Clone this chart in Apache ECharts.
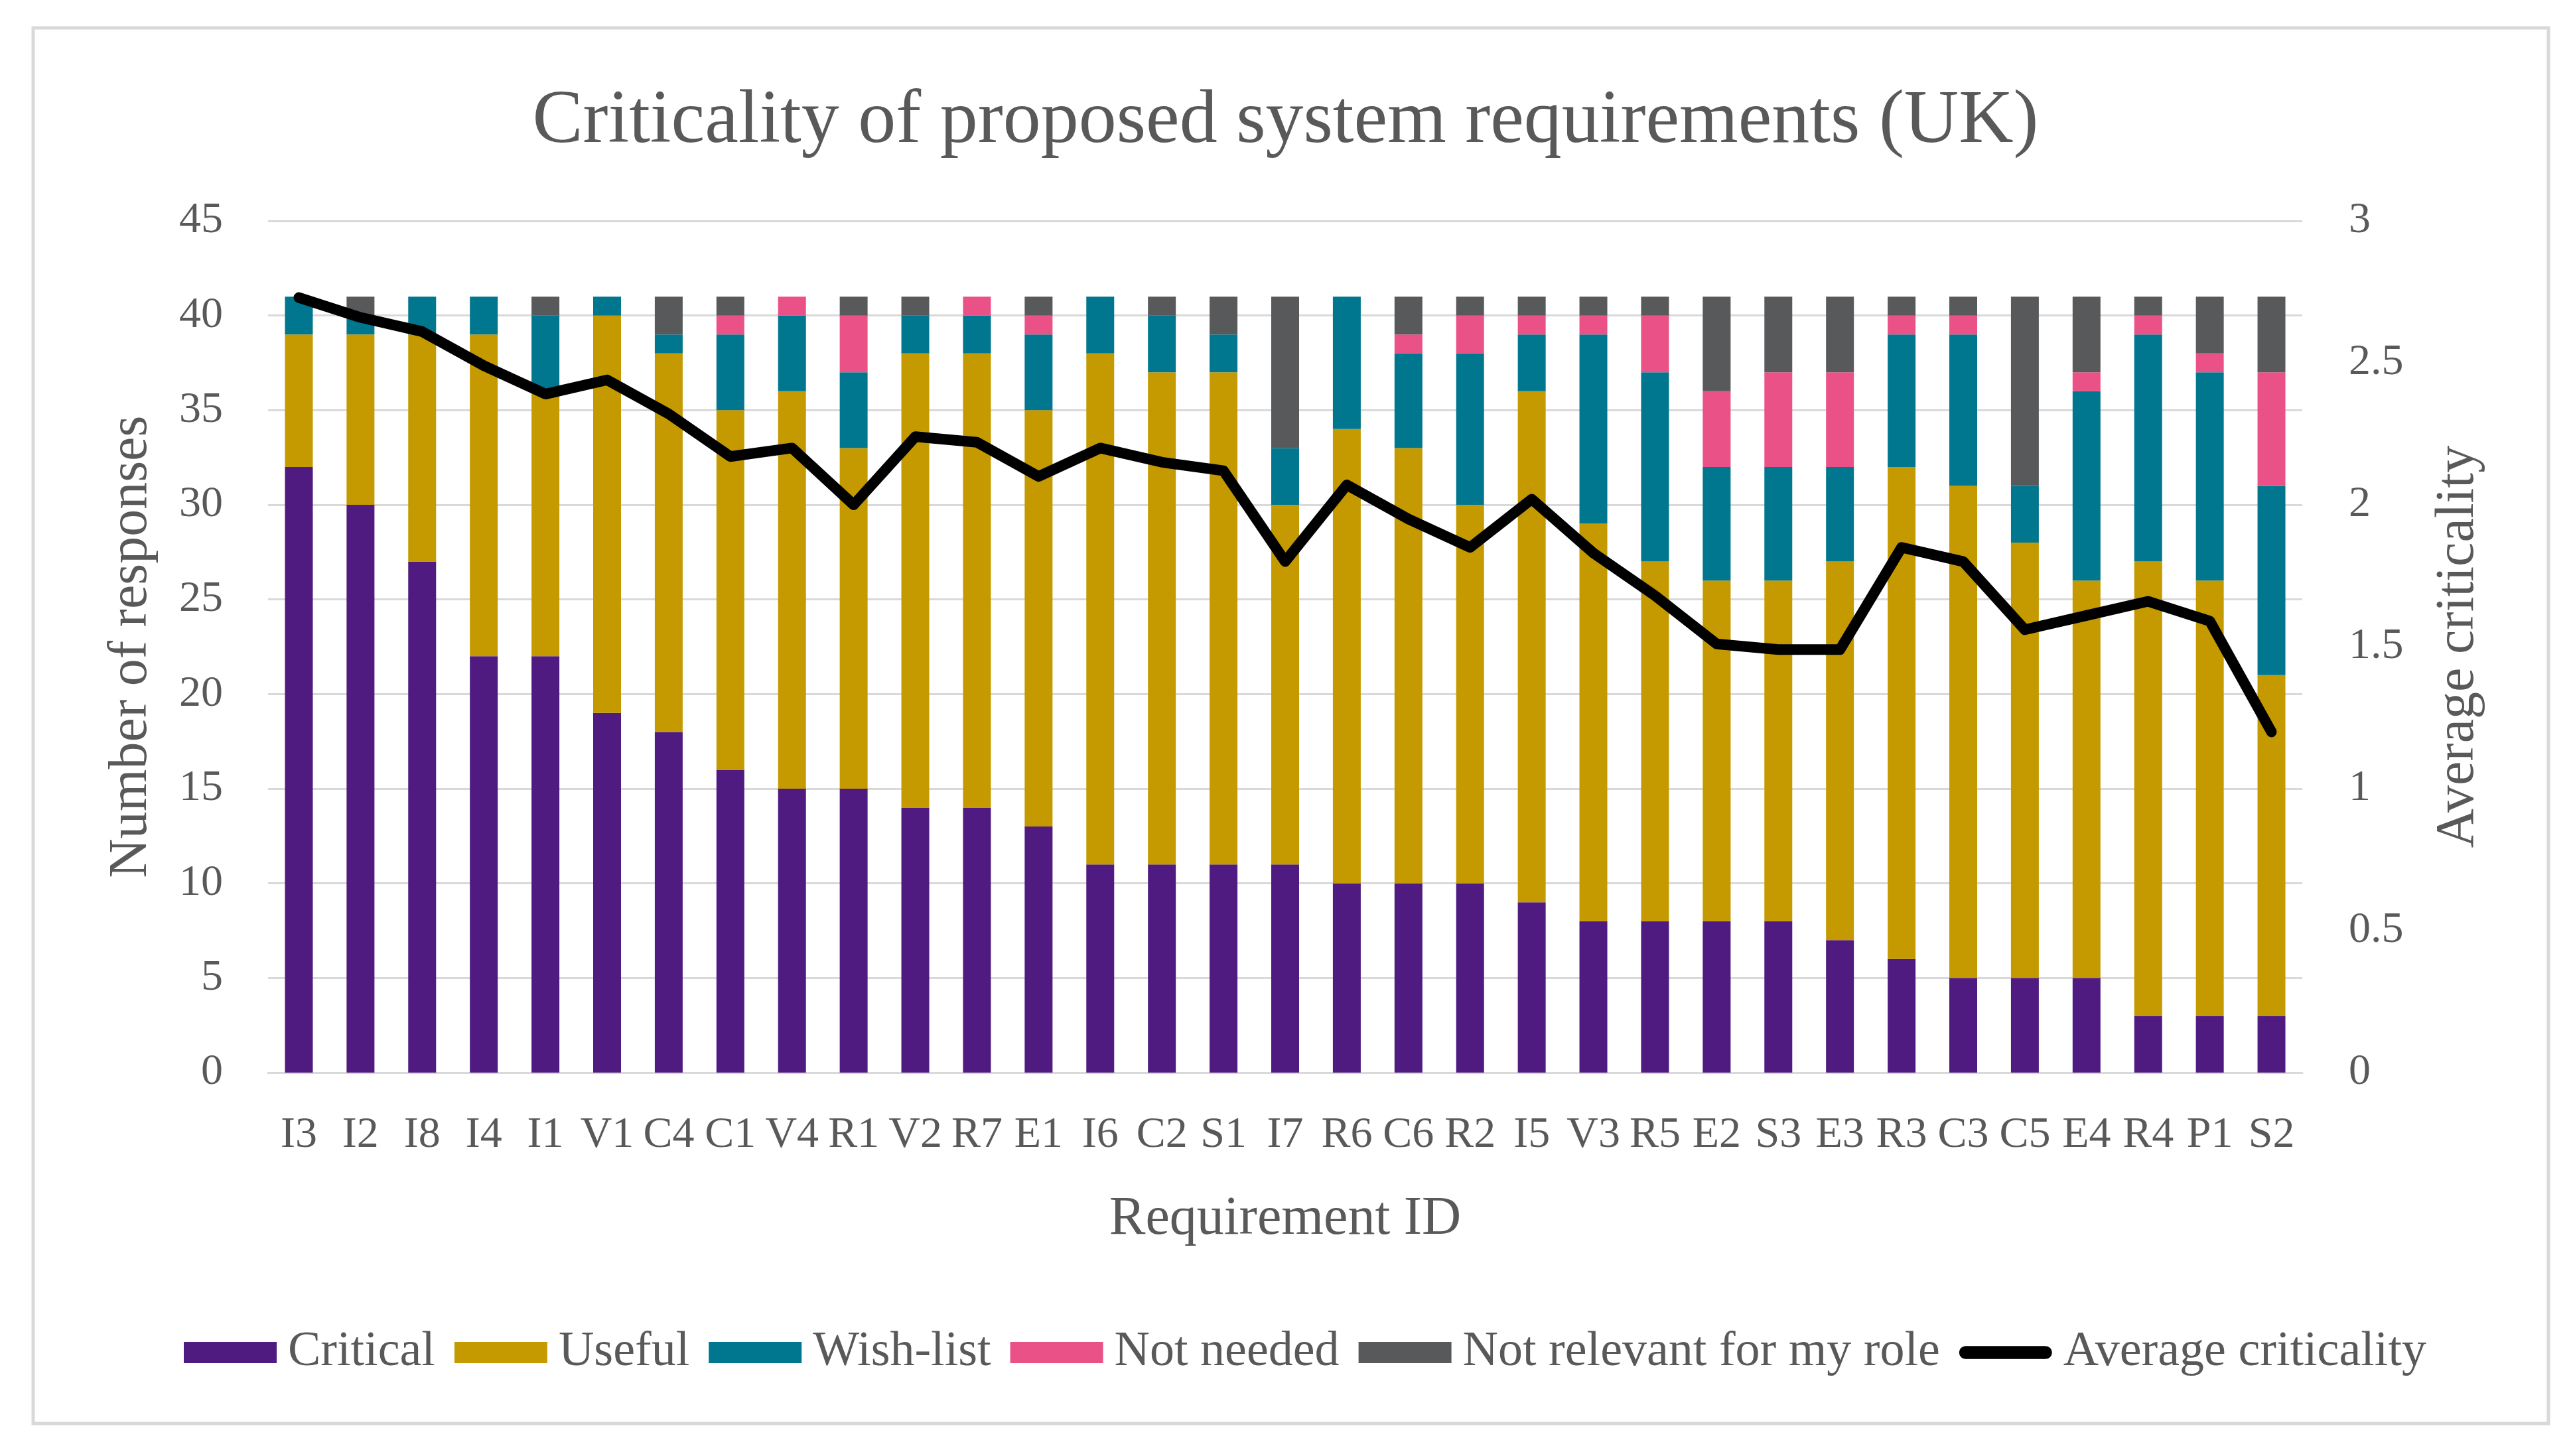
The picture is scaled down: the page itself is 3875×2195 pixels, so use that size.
<!DOCTYPE html>
<html>
<head>
<meta charset="utf-8">
<title>Criticality of proposed system requirements (UK)</title>
<script src="https://cdn.jsdelivr.net/npm/echarts/dist/echarts.min.js"></script>
<style>
    html, body { margin: 0; padding: 0; background: #fff; }
    #echart1 { width: 3875px; height: 2195px; }
</style>
</head>
<body>
<div id="echart1"></div>
<script>
// requirement IDs, in the order shown on the x axis
var categories = ['I3','I2','I8','I4','I1','V1','C4','C1','V4','R1','V2','R7','E1','I6','C2','S1','I7',
                  'R6','C6','R2','I5','V3','R5','E2','S3','E3','R3','C3','C5','E4','R4','P1','S2'];

// number of responses per answer
var critical    = [32,30,27,22,22,19,18,16,15,15,14,14,13,11,11,11,11,10,10,10,9,8,8,8,8,7,6,5,5,5,3,3,3];
var useful      = [7,9,12,17,14,21,20,19,21,18,24,24,22,27,26,26,19,24,23,20,27,21,19,18,18,20,26,26,23,21,24,23,18];
var wishList    = [2,1,2,2,4,1,1,4,4,4,2,2,4,3,3,2,3,7,5,8,3,10,10,6,6,5,7,8,3,10,12,11,10];
var notNeeded   = [0,0,0,0,0,0,0,1,1,3,0,1,1,0,0,0,0,0,1,2,1,1,3,4,5,5,1,1,0,1,1,1,6];
var notRelevant = [0,1,0,0,1,0,2,1,0,1,1,0,1,0,1,2,8,0,2,1,1,1,1,5,4,4,1,1,10,4,1,3,4];

// average criticality (right axis)
var avgCriticality = [2.73,2.66,2.61,2.49,2.39,2.44,2.32,2.17,2.20,2.00,2.24,2.22,2.10,2.20,2.15,2.12,1.80,
                      2.07,1.95,1.85,2.02,1.83,1.68,1.51,1.49,1.49,1.85,1.80,1.56,1.61,1.66,1.59,1.20];

var barNames = ['Critical', 'Useful', 'Wish-list', 'Not needed', 'Not relevant for my role'];
var lineName = 'Average criticality';

function echarts_1() {
    var myChart = echarts.init(document.getElementById('echart1'));
    var font = '"Liberation Serif", "DejaVu Serif", serif';
    var txt = '#595959';

    function barSeries(name, data, color) {
        return {
            name: name,
            type: 'bar',
            stack: 'total',
            data: data,
            barWidth: 42,
            itemStyle: { color: color },
            emphasis: { disabled: true }
        };
    }

    // legend: bars as plain boxes, the line as a thick rounded stroke
    var legendData = barNames.map(function (n) { return { name: n, icon: 'rect' }; });
    legendData.push({
        name: lineName,
        icon: 'path://M7,0H93A7,7 0 0 1 93,14H7A7,7 0 0 1 7,0Z'
    });

    var option = {
        backgroundColor: '#fff',
        animation: false,
        textStyle: { fontFamily: font },
        title: {
            text: 'Criticality of proposed system requirements (UK)',
            left: 'center',
            top: 122,
            textStyle: { fontFamily: font, fontSize: 114, fontWeight: 'normal', color: txt }
        },
        graphic: [{
            type: 'rect',
            shape: { x: 50, y: 42, width: 3791, height: 2104 },
            style: { fill: 'none', stroke: '#D9D9D9', lineWidth: 5 },
            z: -10
        }],
        legend: {
            data: legendData,
            left: 272,
            top: 1997,
            itemWidth: 140,
            itemHeight: 32,
            itemGap: 29,
            symbolKeepAspect: true,
            textStyle: { fontFamily: font, fontSize: 74, color: txt, padding: [0, 0, 0, 12] }
        },
        grid: {
            left: 404,
            right: 405,
            top: 333,
            bottom: 578,
            containLabel: false
        },
        xAxis: [{
            type: 'category',
            data: categories,
            name: 'Requirement ID',
            nameLocation: 'middle',
            nameGap: 180,
            nameTextStyle: { fontFamily: font, fontSize: 82, color: txt },
            axisLine: { show: true, lineStyle: { color: '#D9D9D9', width: 3 } },
            axisTick: { show: false },
            axisLabel: { interval: 0, margin: 62, fontFamily: font, fontSize: 66, color: txt }
        }],
        yAxis: [{
            type: 'value',
            min: 0,
            max: 45,
            interval: 5,
            name: 'Number of responses',
            nameLocation: 'middle',
            nameRotate: 90,
            nameGap: 165,
            nameTextStyle: { fontFamily: font, fontSize: 82, color: txt },
            axisLine: { show: false },
            axisTick: { show: false },
            axisLabel: { margin: 68, fontFamily: font, fontSize: 66, color: txt },
            splitLine: { lineStyle: { color: '#D9D9D9', width: 3 } }
        }, {
            type: 'value',
            min: 0,
            max: 3,
            interval: 0.5,
            position: 'right',
            name: 'Average criticality',
            nameLocation: 'middle',
            nameRotate: 90,
            nameGap: 194,
            nameTextStyle: { fontFamily: font, fontSize: 82, color: txt },
            axisLine: { show: false },
            axisTick: { show: false },
            axisLabel: { margin: 70, align: 'left', fontFamily: font, fontSize: 66, color: txt },
            splitLine: { show: false }
        }],
        series: [
            barSeries(barNames[0], critical, '#4F1B80'),
            barSeries(barNames[1], useful, '#C59A00'),
            barSeries(barNames[2], wishList, '#00778E'),
            barSeries(barNames[3], notNeeded, '#EA5287'),
            barSeries(barNames[4], notRelevant, '#58595B'),
            {
                name: lineName,
                type: 'line',
                yAxisIndex: 1,
                data: avgCriticality,
                symbol: 'none',
                z: 10,
                lineStyle: { color: '#000', width: 16, cap: 'round', join: 'round' },
                itemStyle: { color: '#000' }
            }
        ]
    };

    myChart.setOption(option);
    window.addEventListener("resize", function () {
        myChart.resize();
    });
}

echarts_1();
</script>
</body>
</html>
